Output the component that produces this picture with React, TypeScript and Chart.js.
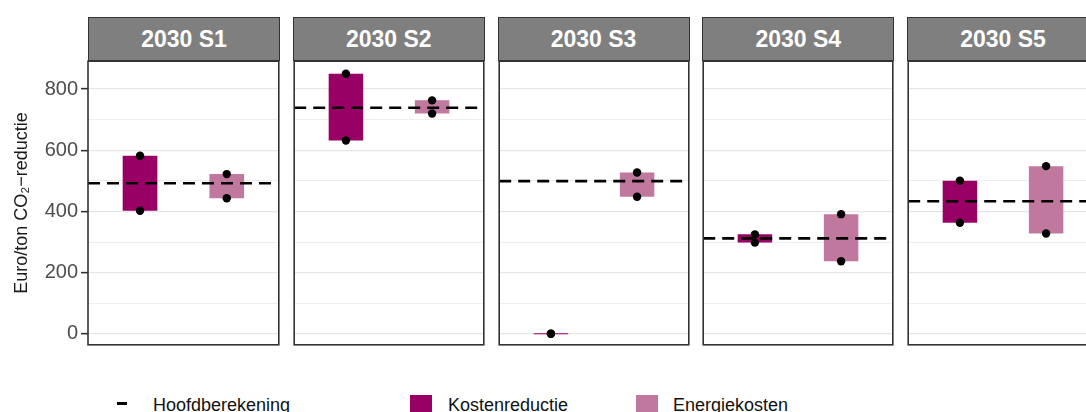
import React, { useEffect, useRef } from 'react';
import { Chart, registerables } from 'chart.js';

Chart.register(...registerables);

// ---- data ----
const scenarios = ['2030 S1', '2030 S2', '2030 S3', '2030 S4', '2030 S5'];
const seriesNames = ['Kostenreductie', 'Energiekosten'];
const kostenLow = [402, 632, 0, 298, 363];
const kostenHigh = [582, 850, 0, 325, 500];
const energieLow = [443, 720, 448, 237, 328];
const energieHigh = [522, 763, 527, 391, 548];
const hoofd = [492, 739, 499, 312, 433];
const yMajorTicks = [0, 200, 400, 600, 800];
const yMinorTicks = [100, 300, 500, 700];
const yAxisTitle = 'Euro/ton CO₂−reductie';
const lineLegend = 'Hoofdberekening';

// ---- styles ----
const COLORS = { kosten: '#990066', energie: '#c0789e' };
const FONT = '"Liberation Sans", Arial, sans-serif';
const Y_MIN = -36;
const Y_MAX = 891;
const X_MIN = 0.4;
const X_MAX = 2.6;
const PANEL_W = 192;
const PANEL_TOP = 60;
const PANEL_H = 286;
const AXIS_W = 88;
const GAP = 12.75;
const PAD = 3;

const framePlugin = {
  id: 'frame',
  afterDraw(chart: any) {
    const { ctx, chartArea } = chart;
    const { left, top, right, bottom } = chartArea;
    ctx.save();
    ctx.strokeStyle = '#333333';
    ctx.lineWidth = 1.6;
    ctx.strokeRect(left, top, right - left, bottom - top);
    ctx.restore();
  },
};

function Panel({ index }: { index: number }) {
  const ref = useRef<HTMLCanvasElement | null>(null);
  const first = index === 0;
  const panelLeft = AXIS_W + index * (PANEL_W + GAP);
  const canvasLeft = first ? 0 : panelLeft - PAD;
  const canvasW = first ? AXIS_W + PANEL_W + PAD : PANEL_W + 2 * PAD;
  const canvasH = PANEL_H + 2 * PAD;

  useEffect(() => {
    const allTicks = [...yMajorTicks, ...yMinorTicks].sort((a, b) => a - b);
    const isMajor = (v: number) => yMajorTicks.includes(v);
    const chart = new Chart(ref.current as HTMLCanvasElement, {
      type: 'bar',
      data: {
        datasets: [
          {
            type: 'bar',
            label: seriesNames.join(' / '),
            data: [
              { x: 1, y: [kostenLow[index], kostenHigh[index]] },
              { x: 2, y: [energieLow[index], energieHigh[index]] },
            ] as any,
            backgroundColor: [COLORS.kosten, COLORS.energie],
            borderWidth: 0,
            barPercentage: 0.4,
            categoryPercentage: 1,
            minBarLength: 1,
            order: 3,
          },
          {
            type: 'line',
            label: lineLegend,
            data: [
              { x: X_MIN, y: hoofd[index] },
              { x: X_MAX, y: hoofd[index] },
            ],
            borderColor: '#000000',
            borderWidth: 2.6,
            borderDash: [12, 7],
            pointRadius: 0,
            order: 2,
          },
          {
            type: 'scatter',
            label: 'punten',
            data: [
              { x: 1, y: kostenLow[index] },
              { x: 1, y: kostenHigh[index] },
              { x: 2, y: energieLow[index] },
              { x: 2, y: energieHigh[index] },
            ],
            backgroundColor: '#000000',
            borderWidth: 0,
            pointRadius: 4.2,
            order: 1,
          },
        ],
      } as any,
      options: {
        animation: false,
        responsive: false,
        layout: {
          padding: { left: first ? 0 : PAD, right: PAD, top: PAD, bottom: PAD },
        },
        plugins: {
          legend: { display: false },
          tooltip: { enabled: false },
        },
        scales: {
          x: {
            type: 'linear',
            min: X_MIN,
            max: X_MAX,
            offset: false,
            display: false,
            afterBuildTicks: (s: any) => {
              s.ticks = [{ value: 1 }, { value: 2 }];
            },
          },
          y: {
            type: 'linear',
            min: Y_MIN,
            max: Y_MAX,
            afterBuildTicks: (s: any) => {
              s.ticks = allTicks.map((v) => ({ value: v }));
            },
            afterFit: (s: any) => {
              s.width = first ? AXIS_W : 0;
              s.paddingTop = 0;
              s.paddingBottom = 0;
              s.paddingLeft = 0;
              s.paddingRight = 0;
            },
            ticks: {
              display: first,
              color: '#4d4d4d',
              font: { family: FONT, size: 20 },
              padding: 3,
              callback: (v: any) => (isMajor(Number(v)) ? String(v) : ''),
            },
            grid: {
              color: (c: any) => (isMajor(c.tick?.value) ? '#e6e6e6' : '#eeeeee'),
              lineWidth: (c: any) => (isMajor(c.tick?.value) ? 1.3 : 1),
              drawTicks: first,
              tickLength: 7,
              tickWidth: 1.6,
              tickColor: (c: any) => (isMajor(c.tick?.value) ? '#333333' : 'rgba(0,0,0,0)'),
            },
            border: { display: false },
            title: {
              display: first,
              text: yAxisTitle,
              color: '#1a1a1a',
              font: { family: FONT, size: 18 },
              padding: { top: 11, bottom: 0 },
            },
          },
        },
      } as any,
      plugins: [framePlugin],
    });
    return () => chart.destroy();
  }, [index, first]);

  return (
    <>
      <div
        style={{
          position: 'absolute',
          left: panelLeft,
          top: 17,
          width: PANEL_W,
          height: PANEL_TOP - 17 + 1,
          boxSizing: 'border-box',
          background: '#7f7f7f',
          border: '1.6px solid #333333',
          color: '#ffffff',
          fontFamily: FONT,
          fontWeight: 'bold',
          fontSize: 23,
          display: 'flex',
          alignItems: 'center',
          justifyContent: 'center',
        }}
      >
        {scenarios[index]}
      </div>
      <canvas
        ref={ref}
        width={canvasW}
        height={canvasH}
        style={{
          position: 'absolute',
          left: canvasLeft,
          top: PANEL_TOP - PAD,
          width: canvasW,
          height: canvasH,
        }}
      />
    </>
  );
}

function LegendText({ left, children }: { left: number; children: React.ReactNode }) {
  return (
    <div
      style={{
        position: 'absolute',
        left,
        top: 396,
        fontFamily: FONT,
        fontSize: 18,
        lineHeight: '18px',
        color: '#111111',
        whiteSpace: 'nowrap',
      }}
    >
      {children}
    </div>
  );
}

export default function App() {
  return (
    <div
      style={{
        position: 'fixed',
        left: 0,
        top: 0,
        width: 1086,
        height: 412,
        background: '#ffffff',
        overflow: 'hidden',
      }}
    >
      {scenarios.map((_, i) => (
        <Panel key={i} index={i} />
      ))}
      <div style={{ position: 'absolute', left: 117, top: 402, width: 10, height: 3, background: '#000' }} />
      <LegendText left={153}>{lineLegend}</LegendText>
      <div style={{ position: 'absolute', left: 410, top: 395, width: 22, height: 22, background: COLORS.kosten }} />
      <LegendText left={448}>{seriesNames[0]}</LegendText>
      <div style={{ position: 'absolute', left: 636, top: 395, width: 22, height: 22, background: COLORS.energie }} />
      <LegendText left={673}>{seriesNames[1]}</LegendText>
    </div>
  );
}
